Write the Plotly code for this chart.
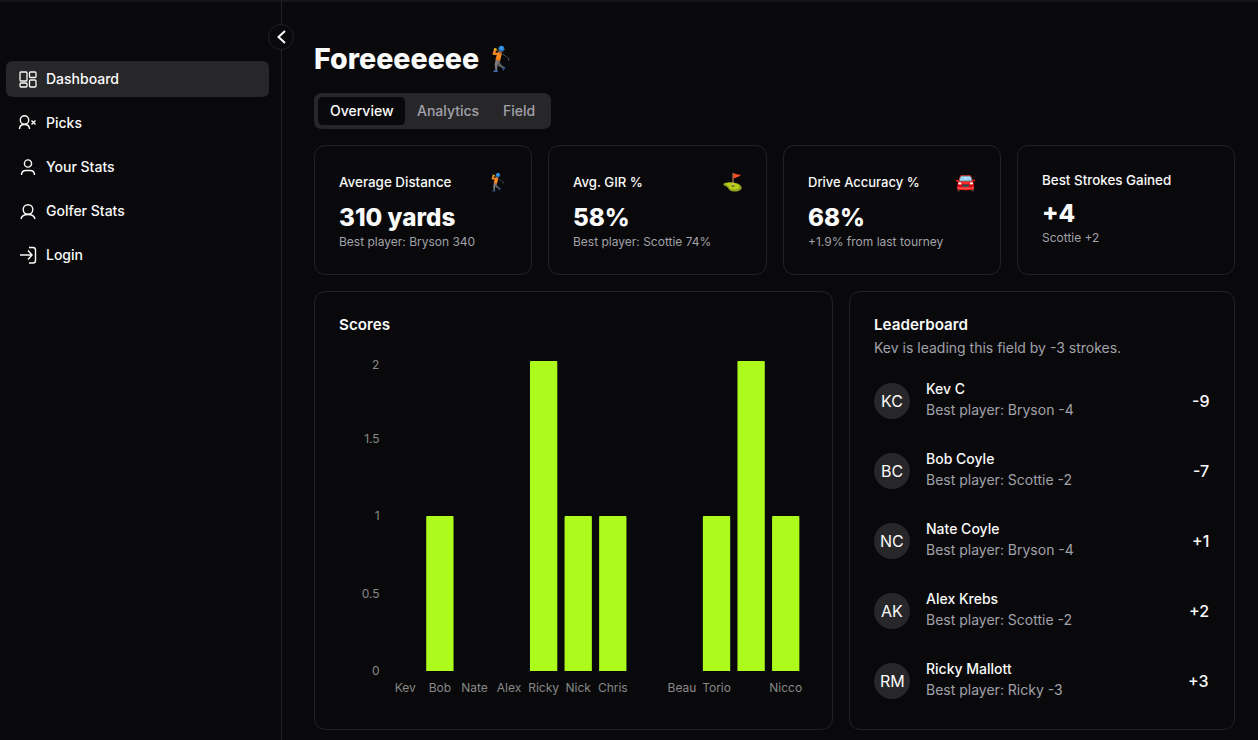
import re
import plotly.graph_objects as go

W, H = 1258, 740

# bar chart data
player_names = ['Kev', 'Bob', 'Nate', 'Alex', 'Ricky', 'Nick', 'Chris', '', 'Beau', 'Torio', '', 'Nicco']
player_scores = [0, 1, 0, 0, 2, 1, 1, 0, 0, 1, 2, 1]
y_ticks = [0, 0.5, 1, 1.5, 2]

# page text
menu_items = ['Dashboard', 'Picks', 'Your Stats', 'Golfer Stats', 'Login']
tab_labels = ['Overview', 'Analytics', 'Field']
card_titles = ['Average Distance', 'Avg. GIR %', 'Drive Accuracy %', 'Best Strokes Gained']
card_values = ['310 yards', '58%', '68%', '+4']
card_notes = ['Best player: Bryson 340', 'Best player: Scottie 74%', '+1.9% from last tourney', 'Scottie +2']
card_emoji = ['🏌️', '⛳', '🚘', '']
board_initials = ['KC', 'BC', 'NC', 'AK', 'RM']
board_names = ['Kev C', 'Bob Coyle', 'Nate Coyle', 'Alex Krebs', 'Ricky Mallott']
board_best = ['Best player: Bryson -4', 'Best player: Scottie -2', 'Best player: Bryson -4',
              'Best player: Scottie -2', 'Best player: Ricky -3']
board_scores = ['-9', '-7', '+1', '+2', '+3']

BG = '#09090b'
PANEL = '#27272a'
BORDER = '#232326'
WHITE = '#fafafa'
MUTED = '#a1a1aa'
LIME = '#adfa1d'
FONT = 'Inter'


def px(x):
    return x / W


def py(y):
    return 1 - y / H


def page_path(d):
    # path written in page pixels, converted to paper coordinates
    tokens = re.findall(r'[MLQCZ]|-?\d+\.?\d*', d)
    out = []
    is_x = True
    for t in tokens:
        if t.isalpha():
            out.append(t)
            is_x = True
        else:
            out.append(f'{px(float(t)):.5f}' if is_x else f'{py(float(t)):.5f}')
            is_x = not is_x
    return ' '.join(out)


def round_rect(x0, y0, x1, y1, r):
    return (f'M {x0 + r} {y0} L {x1 - r} {y0} Q {x1} {y0} {x1} {y0 + r} '
            f'L {x1} {y1 - r} Q {x1} {y1} {x1 - r} {y1} '
            f'L {x0 + r} {y1} Q {x0} {y1} {x0} {y1 - r} '
            f'L {x0} {y0 + r} Q {x0} {y0} {x0 + r} {y0} Z')


shapes = []


def add_box(x0, y0, x1, y1, r, fill='rgba(0,0,0,0)', line=None):
    shapes.append(dict(type='path', xref='paper', yref='paper', layer='below',
                       path=page_path(round_rect(x0, y0, x1, y1, r)), fillcolor=fill,
                       line=dict(color=line or 'rgba(0,0,0,0)', width=1)))


def add_icon(d, width=1.4):
    shapes.append(dict(type='path', xref='paper', yref='paper', layer='below',
                       path=page_path(d), line=dict(color=WHITE, width=width)))


def add_circle(cx, cy, r, fill='rgba(0,0,0,0)', line=WHITE, width=1.4):
    shapes.append(dict(type='circle', xref='paper', yref='paper', layer='below',
                       x0=px(cx - r), x1=px(cx + r), y0=py(cy + r), y1=py(cy - r),
                       fillcolor=fill, line=dict(color=line, width=width)))


annotations = []


def add_text(x, y, text, size=14, color=WHITE, weight=400, anchor='left'):
    # left-aligned annotation boxes keep about 1px of padding
    nudge = -1 if anchor == 'left' else 0
    annotations.append(dict(xref='paper', yref='paper', x=px(x + nudge), y=py(y), text=text,
                            showarrow=False, xanchor=anchor, yanchor='middle', borderpad=0,
                            font=dict(family=FONT, size=size, color=color, weight=weight)))


# page frame
shapes.append(dict(type='line', xref='paper', yref='paper', layer='below', x0=0, x1=1,
                   y0=py(1), y1=py(1), line=dict(color=BORDER, width=1)))
shapes.append(dict(type='line', xref='paper', yref='paper', layer='below', x0=px(281.5), x1=px(281.5),
                   y0=py(1), y1=0, line=dict(color=BORDER, width=1)))
add_circle(281, 37, 12.5, fill=BG, line=BORDER, width=1)
add_icon('M 285 31 L 278.5 37 L 285 43', 2)

# sidebar
add_box(6, 61, 269, 97, 7, fill=PANEL)
for i, item in enumerate(menu_items):
    add_text(46, 78.5 + 44 * i, item, 14, WHITE, 500)

add_box(20, 72, 27, 81, 1)
add_box(29.5, 72, 36, 77.5, 1)
add_box(29.5, 80, 36, 87, 1)
add_box(20, 83, 27, 87, 1)
for s in shapes[-4:]:
    s['line'] = dict(color=WHITE, width=1.3)

add_circle(24.5, 120, 4.2)
add_icon('M 19.5 129 Q 19.5 124.5 24.5 124.5 Q 29.5 124.5 29.5 129')
add_icon('M 31.5 120.5 L 35.5 124.5 M 35.5 120.5 L 31.5 124.5', 1.4)

add_circle(28, 163.5, 3.6)
add_icon('M 21.5 175 Q 21.5 170.5 26 170.5 L 30 170.5 Q 34.5 170.5 34.5 175')

add_circle(28, 209.5, 4.8)
add_icon('M 21 219 Q 22 214.5 28 214.5 Q 34 214.5 35 219')

add_icon('M 20 255 L 32 255 M 28 250.5 L 32 255 L 28 259.5')
add_icon('M 29 247.5 L 33 247.5 Q 35.5 247.5 35.5 250 L 35.5 260.5 Q 35.5 263 33 263 L 29 263')

# title and tabs
add_text(314, 59, 'Foreeeeeee', 28.6, WHITE, 800)
add_text(501, 59, '🏌️', 24, WHITE, 400, 'center')
add_box(314, 93, 551, 129, 8, fill=PANEL)
add_box(318, 97, 405, 125, 5, fill=BG)
for x, label, colour in zip([330, 417, 503], tab_labels, [WHITE, MUTED, MUTED]):
    add_text(x, 110.5, label, 14, colour, 500)

# stat cards
card_left = [314.5, 548.5, 783.5, 1017.5]
card_right = [531.5, 766.5, 1000.5, 1234.5]
title_sizes = [13.4, 13.2, 13, 13.4]
for i in range(4):
    add_box(card_left[i], 145.5, card_right[i], 274.5, 12, line=BORDER)
    shift = 2 if i == 3 else 0
    offset = 4 if i == 3 else 0
    tx = card_left[i] + 24.5
    add_text(tx, 182 - shift, card_titles[i], title_sizes[i], WHITE, 500)
    add_text(tx, 217 - offset, card_values[i], 24.2, WHITE, 800)
    add_text(tx, 241.5 - offset, card_notes[i], 12, MUTED)
    if card_emoji[i]:
        add_text(card_right[i] - 34.5, 182, card_emoji[i], 17, WHITE, 400, 'center')

# chart and leaderboard cards
add_box(314.5, 291.5, 832.5, 729.5, 12, line=BORDER)
add_box(849.5, 291.5, 1234.5, 729.5, 12, line=BORDER)
add_text(339, 324, 'Scores', 15.2, WHITE, 600)
add_text(874, 324, 'Leaderboard', 15.2, WHITE, 600)
add_text(874, 347.5, 'Kev is leading this field by -3 strokes.', 14, MUTED)
for i in range(5):
    cy = 401 + 70 * i
    add_circle(892, cy, 18, fill=PANEL, line='rgba(0,0,0,0)', width=0)
    add_text(892, cy, board_initials[i], 16, WHITE, 400, 'center')
    add_text(926, cy - 12.5, board_names[i], 14, WHITE, 500)
    add_text(926, cy + 8.5, board_best[i], 14, MUTED)
    add_text(1210, cy, board_scores[i], 16, WHITE, 500, 'right')

# the "2" label sits a little lower than its tick in the original
add_text(380, 364, '2', 12, '#888888', 400, 'right')

fig = go.Figure()
fig.add_trace(go.Bar(x=list(range(len(player_names))), y=player_scores,
                     marker=dict(color=LIME, cornerradius=1, line=dict(width=0)),
                     hoverinfo='skip'))

fig.update_layout(width=W, height=H, margin=dict(l=0, r=0, t=0, b=0), autosize=False,
                  paper_bgcolor=BG, plot_bgcolor='rgba(0,0,0,0)', showlegend=False,
                  bargap=0.21, shapes=shapes, annotations=annotations,
                  font=dict(family=FONT, color='#888888', size=12))
fig.update_xaxes(domain=[px(388), px(803)], range=[-0.5, len(player_names) - 0.5], automargin=False,
                 tickmode='array', tickvals=list(range(len(player_names))), ticktext=player_names,
                 showgrid=False, zeroline=False, showline=False,
                 ticks='outside', ticklen=6, tickcolor='rgba(0,0,0,0)', tickangle=0)
fig.update_yaxes(domain=[py(671), py(361)], range=[0, 2], automargin=False,
                 tickmode='array', tickvals=y_ticks[:-1], ticktext=[f'{v:g}' for v in y_ticks[:-1]],
                 showgrid=False, zeroline=False, showline=False,
                 ticks='outside', ticklen=5, tickcolor='rgba(0,0,0,0)')

fig.write_html("out.html", config=dict(displayModeBar=False),
               post_script="document.body.style.margin='0';document.body.style.background='#09090b';")
